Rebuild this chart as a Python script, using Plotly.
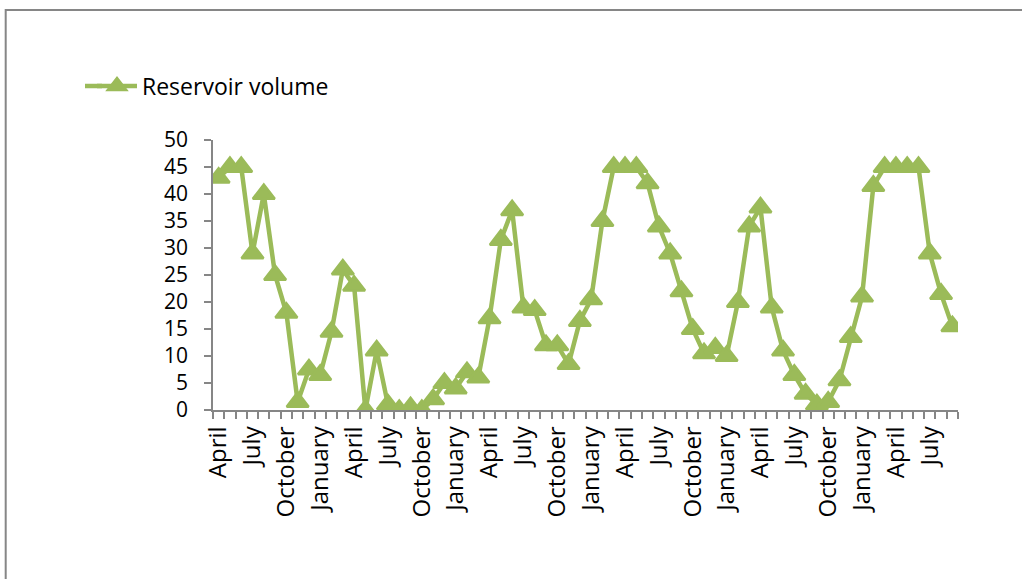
import plotly.graph_objects as go

months = ["April", "May", "June", "July", "August", "September", "October", "November", "December",
          "January", "February", "March"] * 5 + ["April", "May", "June", "July", "August", "September"]

reservoir_volume = [43, 45, 45, 29, 40, 25, 18, 1.5, 7.5, 6.5, 14.5, 26,
                    23, 0, 11, 1, 0, 0.5, 0, 2, 5, 4, 7, 6,
                    17, 31.5, 37, 19, 18.5, 12, 12, 8.5, 16.5, 20.5, 35, 45,
                    45, 45, 42, 34, 29, 22, 15, 10.5, 11.5, 10, 20, 34,
                    37.5, 19, 11, 6.5, 3, 1, 1.5, 5.5, 13.5, 21, 41.5, 45,
                    45, 45, 45, 29, 21.5, 15.5]

tick_labels = ["April", "July", "October", "January"] * 5 + ["April", "July"]
tick_positions = [i for i in range(len(months)) if months[i] in ("April", "July", "October", "January")]

x_idx = list(range(len(reservoir_volume)))
GREEN = "#9BBB59"
GRAY = "#868686"
FONT = "Open Sans"

fig = go.Figure()
fig.add_trace(go.Scatter(
    x=x_idx, y=reservoir_volume, mode="lines+markers", name="Reservoir volume",
    line=dict(color=GREEN, width=4.5),
    marker=dict(symbol="triangle-up", size=19, color=GREEN, line=dict(color=GREEN, width=2.5)),
    text=months, hovertemplate="%{text}: %{y}<extra></extra>",
))

W, H = 1022, 579
L, R, T, B = 213, 64, 140, 169
pw, ph = W - L - R, H - T - B

def px(x):
    return (x - L) / pw

def py(y):
    return (H - B - y) / ph

fig.update_layout(
    width=W, height=H,
    margin=dict(l=L, r=R, t=T, b=B, pad=0),
    paper_bgcolor="white", plot_bgcolor="white",
    font=dict(family=FONT, size=21, color="black"),
    showlegend=True,
    legend=dict(x=px(92), y=py(86), xanchor="left", yanchor="middle",
                font=dict(family=FONT, size=23, color="black"),
                bgcolor="rgba(0,0,0,0)", itemwidth=40),
    xaxis=dict(
        range=[-0.5, len(reservoir_volume) - 0.5],
        tickmode="array", tickvals=tick_positions, ticktext=tick_labels,
        tickangle=-90, ticks="", showgrid=False, zeroline=False,
        showline=True, linecolor=GRAY, linewidth=1.5,
        tickfont=dict(family=FONT, size=24, color="black"),
        ticklabelstandoff=5,
        minor=dict(tickmode="linear", tick0=-0.5, dtick=1, ticks="outside",
                   ticklen=7, tickcolor=GRAY, tickwidth=1.5, showgrid=False),
        fixedrange=True,
    ),
    yaxis=dict(
        range=[0, 50], tickmode="linear", tick0=0, dtick=5,
        ticks="outside", ticklen=7, tickcolor=GRAY, tickwidth=1.5,
        showgrid=False, zeroline=False,
        showline=True, linecolor=GRAY, linewidth=1.5,
        tickfont=dict(family=FONT, size=21, color="black"),
        ticklabelstandoff=12,
        fixedrange=True,
    ),
    shapes=[
        dict(type="rect", xref="paper", yref="paper",
             x0=px(5.7), x1=px(1040), y0=py(10), y1=py(600),
             line=dict(color=GRAY, width=2), fillcolor="rgba(0,0,0,0)", layer="below"),
        dict(type="line", xref="paper", yref="paper",
             x0=px(85), x1=px(102), y0=py(86), y1=py(86),
             line=dict(color=GREEN, width=4.5), layer="above"),
    ],
)

fig.write_html("out.html")
